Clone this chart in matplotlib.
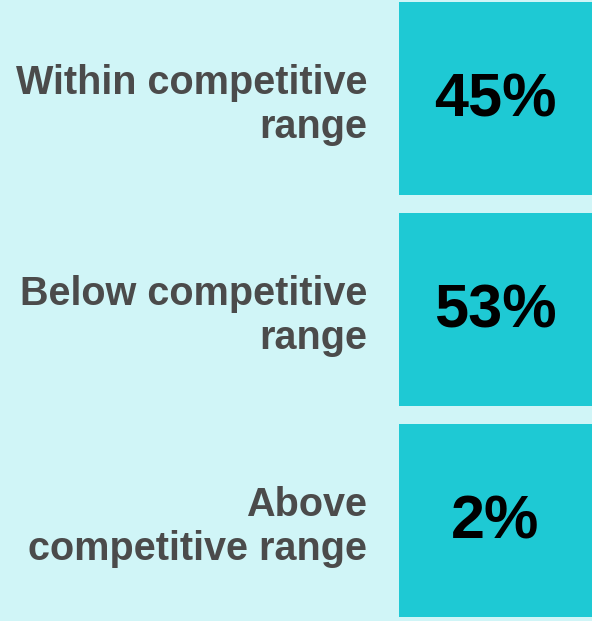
import matplotlib.pyplot as plt

categories = ["Within competitive\nrange", "Below competitive\nrange", "Above\ncompetitive range"]
shares = [45, 53, 2]

BG = "#d0f5f7"
BOX = "#1ec9d4"

fig = plt.figure(figsize=(5.92, 6.21), dpi=100, facecolor=BG)
ax = fig.add_axes([0, 0, 1, 1])
ax.set_facecolor(BG)

pos = range(len(categories))
# every box has the same size; the number is written inside
ax.barh(pos, [1] * len(categories), left=0, height=193 / 211, color=BOX)

for y, label, v in zip(pos, categories, shares):
    ax.text(-0.165, y + 0.03, label, ha="right", va="center", fontsize=28.5,
            fontweight="bold", color="#4b4b4b", family="Liberation Sans",
            linespacing=1.2)
    ax.text(0.5, y + 0.01, f"{v}%", ha="center", va="center", fontsize=44,
            fontweight="bold", color="black", family="Liberation Sans")

ax.set_xlim(-399 / 193, 1)
ax.set_ylim((621 - 98.5) / 211, -98.5 / 211)
ax.axis("off")

fig.savefig("out.png", dpi=100, facecolor=BG)
